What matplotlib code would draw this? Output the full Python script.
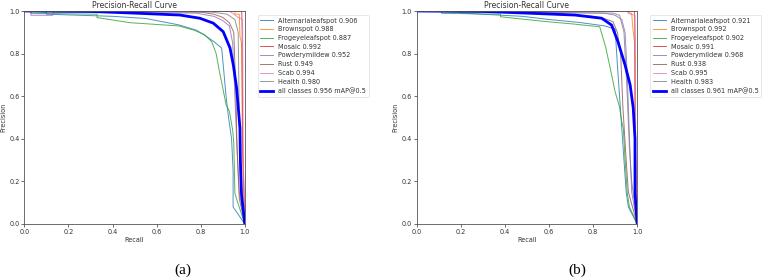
import matplotlib
matplotlib.use("Agg")
import matplotlib.pyplot as plt

class_names = ["Alternarialeafspot", "Brownspot", "Frogeyeleafspot", "Mosaic",
               "Powderymildew", "Rust", "Scab", "Health"]
ap_a = [0.906, 0.988, 0.887, 0.992, 0.952, 0.949, 0.994, 0.980]
ap_b = [0.921, 0.992, 0.902, 0.991, 0.968, 0.938, 0.995, 0.983]
map_a = 0.956
map_b = 0.961
x_ticks = [0.0, 0.2, 0.4, 0.6, 0.8, 1.0]
y_ticks = [0.0, 0.2, 0.4, 0.6, 0.8, 1.0]

# ---- panel (a) curves: recall / precision ----
a_alt_r = [0, 0.10, 0.10, 0.40, 0.55, 0.70, 0.78, 0.82, 0.86, 0.895, 0.905, 0.915, 0.925, 0.94, 0.947, 0.947, 1.0]
a_alt_p = [1.0, 0.995, 0.985, 0.975, 0.965, 0.935, 0.91, 0.885, 0.856, 0.826, 0.715, 0.60, 0.51, 0.40, 0.25, 0.08, 0.0]
a_brown_r = [0, 0.955, 0.955, 0.975, 0.978, 0.985, 0.99, 1.0]
a_brown_p = [1.0, 1.0, 0.985, 0.985, 0.88, 0.85, 0.30, 0.0]
a_frog_r = [0, 0.03, 0.03, 0.33, 0.33, 0.48, 0.70, 0.77, 0.815, 0.85, 0.87, 0.885, 0.90, 0.915, 0.93, 0.945, 0.95, 0.955, 0.965, 1.0]
a_frog_p = [1.0, 1.0, 0.989, 0.985, 0.969, 0.945, 0.93, 0.91, 0.89, 0.856, 0.80, 0.715, 0.64, 0.56, 0.53, 0.44, 0.38, 0.145, 0.11, 0.0]
a_mosaic_r = [0, 0.986, 0.988, 0.99, 1.0]
a_mosaic_p = [1.0, 1.0, 0.90, 0.40, 0.0]
a_powdery_r = [0, 0.03, 0.03, 0.13, 0.13, 0.78, 0.86, 0.90, 0.93, 0.945, 0.955, 0.965, 0.975, 1.0]
a_powdery_p = [1.0, 1.0, 0.98, 0.98, 0.995, 0.99, 0.975, 0.955, 0.93, 0.85, 0.60, 0.35, 0.15, 0.0]
a_rust_r = [0, 0.80, 0.86, 0.90, 0.93, 0.95, 0.96, 0.965, 0.975, 1.0]
a_rust_p = [1.0, 0.995, 0.985, 0.97, 0.945, 0.90, 0.60, 0.35, 0.12, 0.0]
a_scab_r = [0, 0.93, 0.95, 0.97, 0.99, 0.993, 1.0]
a_scab_p = [1.0, 1.0, 0.985, 0.97, 0.96, 0.30, 0.0]
a_health_r = [0, 0.85, 0.92, 0.955, 0.97, 0.975, 0.98, 1.0]
a_health_p = [1.0, 0.995, 0.985, 0.96, 0.90, 0.50, 0.20, 0.0]
a_all_r = [0, 0.30, 0.50, 0.706, 0.796, 0.857, 0.902, 0.933, 0.948, 0.963, 0.972, 0.978, 0.98, 0.985, 1.0]
a_all_p = [1.0, 0.998, 0.99, 0.981, 0.966, 0.943, 0.903, 0.826, 0.746, 0.638, 0.526, 0.45, 0.30, 0.14, 0.0]

# ---- panel (b) curves ----
b_alt_r = [0, 0.20, 0.20, 0.48, 0.60, 0.74, 0.853, 0.90, 0.91, 0.92, 0.93, 0.94, 0.95, 0.96, 1.0]
b_alt_p = [1.0, 0.995, 0.99, 0.975, 0.96, 0.946, 0.93, 0.915, 0.75, 0.60, 0.45, 0.30, 0.15, 0.08, 0.0]
b_brown_r = [0, 0.96, 0.96, 0.975, 0.98, 0.988, 0.99, 1.0]
b_brown_p = [1.0, 1.0, 0.99, 0.99, 0.92, 0.85, 0.40, 0.0]
b_frog_r = [0, 0.113, 0.113, 0.38, 0.38, 0.589, 0.70, 0.83, 0.857, 0.88, 0.90, 0.92, 0.93, 0.937, 0.945, 0.955, 0.965, 1.0]
b_frog_p = [1.0, 1.0, 0.989, 0.985, 0.973, 0.95, 0.94, 0.926, 0.83, 0.72, 0.62, 0.55, 0.48, 0.45, 0.30, 0.145, 0.08, 0.0]
b_mosaic_r = [0, 0.988, 0.99, 0.992, 1.0]
b_mosaic_p = [1.0, 1.0, 0.85, 0.35, 0.0]
b_powdery_r = [0, 0.40, 0.40, 0.85, 0.90, 0.93, 0.945, 0.955, 0.965, 0.975, 1.0]
b_powdery_p = [1.0, 1.0, 0.995, 0.99, 0.98, 0.96, 0.90, 0.70, 0.40, 0.15, 0.0]
b_rust_r = [0, 0.60, 0.80, 0.85, 0.89, 0.91, 0.925, 0.935, 0.95, 0.96, 1.0]
b_rust_p = [1.0, 0.99, 0.975, 0.965, 0.95, 0.90, 0.80, 0.55, 0.30, 0.15, 0.0]
b_scab_r = [0, 0.95, 0.97, 0.99, 0.993, 1.0]
b_scab_p = [1.0, 1.0, 0.985, 0.98, 0.40, 0.0]
b_health_r = [0, 0.89, 0.92, 0.94, 0.955, 0.965, 0.975, 1.0]
b_health_p = [1.0, 0.99, 0.98, 0.90, 0.60, 0.35, 0.20, 0.0]
b_all_r = [0, 0.30, 0.50, 0.718, 0.839, 0.884, 0.913, 0.945, 0.968, 0.982, 0.99, 0.99, 1.0]
b_all_p = [1.0, 0.998, 0.99, 0.981, 0.966, 0.934, 0.855, 0.746, 0.653, 0.545, 0.40, 0.145, 0.0]

curves_a = [(a_alt_r, a_alt_p), (a_brown_r, a_brown_p), (a_frog_r, a_frog_p),
            (a_mosaic_r, a_mosaic_p), (a_powdery_r, a_powdery_p), (a_rust_r, a_rust_p),
            (a_scab_r, a_scab_p), (a_health_r, a_health_p)]
curves_b = [(b_alt_r, b_alt_p), (b_brown_r, b_brown_p), (b_frog_r, b_frog_p),
            (b_mosaic_r, b_mosaic_p), (b_powdery_r, b_powdery_p), (b_rust_r, b_rust_p),
            (b_scab_r, b_scab_p), (b_health_r, b_health_p)]

colors = ["#1f77b4", "#ff7f0e", "#2ca02c", "#d62728", "#9467bd", "#8c564b", "#e377c2", "#7f7f7f"]

W, H = 763, 279
fig = plt.figure(figsize=(W / 100, H / 100), dpi=100)
fs = 4.7

def panel(left, curves, aps, mAP, all_r, all_p, cap, cap_x):
    ax = fig.add_axes([left / W, 1 - 224 / H, 220.5 / W, 213 / H])
    for (r, p), c, name, ap in zip(curves, colors, class_names, aps):
        ax.plot(r, p, color=c, lw=0.7, alpha=0.8, label=f"{name} {ap:.3f}")
    ax.plot(all_r, all_p, color="blue", lw=2.0, label=f"all classes {mAP:.3f} mAP@0.5")
    ax.set_xlim(0, 1)
    ax.set_ylim(0, 1)
    ax.set_xticks(x_ticks)
    ax.set_yticks(y_ticks)
    ax.set_xticklabels([f"{t:.1f}" for t in x_ticks])
    ax.set_yticklabels([f"{t:.1f}" for t in y_ticks])
    ax.tick_params(labelsize=fs, length=2, width=0.5, pad=1.5, colors="#333333")
    for s in ax.spines.values():
        s.set_linewidth(0.6)
        s.set_color("#555555")
    ax.set_xlabel("Recall", fontsize=fs, labelpad=1.5, color="#333333")
    ax.set_ylabel("Precision", fontsize=fs, labelpad=2, color="#333333")
    ax.set_title("Precision-Recall Curve", fontsize=5.5, pad=2, color="#333333")
    leg = ax.legend(bbox_to_anchor=(1.04, 1), loc="upper left", fontsize=fs,
                    frameon=True, fancybox=True, borderaxespad=0.6,
                    handlelength=2.0, labelspacing=0.42, borderpad=0.4)
    leg.get_frame().set_linewidth(0.4)
    leg.get_frame().set_edgecolor("#cccccc")
    for t in leg.get_texts():
        t.set_color("#333333")
    fig.text(cap_x / W, 1 - 270 / H, cap, ha="center", va="center",
             fontsize=11, family="Liberation Serif")

panel(24.3, curves_a, ap_a, map_a, a_all_r, a_all_p, "(a)", 183)
panel(416.7, curves_b, ap_b, map_b, b_all_r, b_all_p, "(b)", 577)

fig.savefig("out.png", dpi=100)
